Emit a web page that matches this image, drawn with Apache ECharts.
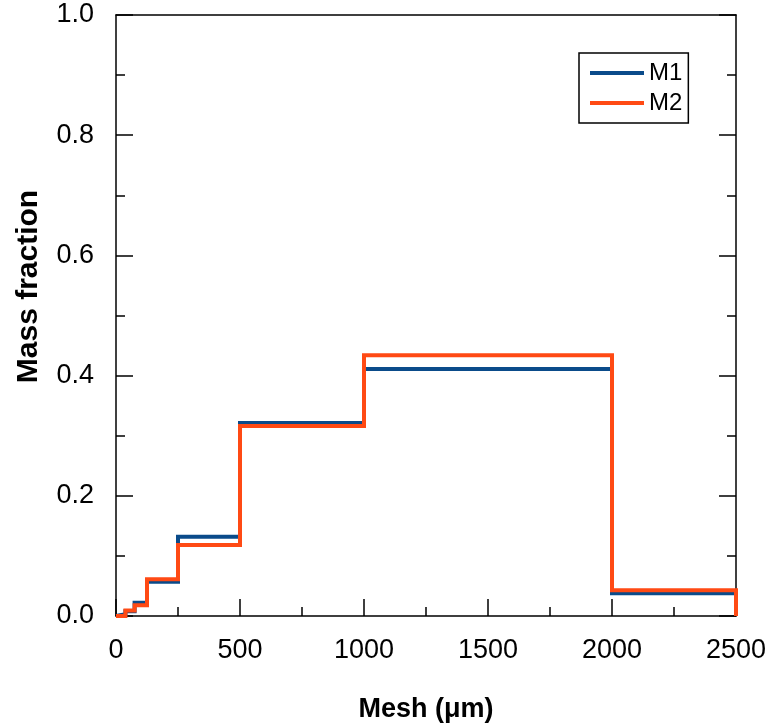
<!DOCTYPE html>
<html>
<head>
<meta charset="utf-8">
<title>Mass fraction vs mesh</title>
<script src="https://cdn.jsdelivr.net/npm/echarts@6/dist/echarts.min.js"></script>
<style>
  html, body { margin: 0; padding: 0; background: #fff; }
  #chart { width: 770px; height: 728px; }
</style>
</head>
<body>
<div id="chart"></div>
<script>
// Sieve bin lower edges (µm); the last entry closes the final bin.
const meshEdges = [0, 38, 75, 125, 250, 500, 1000, 2000, 2500];
// Mass fraction retained in each bin
const m1Values = [0.003, 0.008, 0.022, 0.057, 0.132, 0.321, 0.411, 0.038];
const m2Values = [0.0, 0.009, 0.018, 0.061, 0.118, 0.316, 0.434, 0.043];
const xTicks = [0, 500, 1000, 1500, 2000, 2500];
const yTicks = [0.0, 0.2, 0.4, 0.6, 0.8, 1.0];

// Turn bin values into a closed step outline starting and ending at zero
function stepPoints(values) {
  const pts = [[meshEdges[0], 0]];
  values.forEach((v, i) => pts.push([meshEdges[i], v]));
  pts.push([meshEdges[meshEdges.length - 1], 0]);
  return pts;
}

const FONT = '"Liberation Sans", Arial, sans-serif';
const BLACK_LINE = { color: '#000', width: 1.5 };
const chart = echarts.init(document.getElementById('chart'), null, { renderer: 'canvas' });

chart.setOption({
  animation: false,
  backgroundColor: '#ffffff',
  grid: { left: 116, right: 34, top: 15, bottom: 108, containLabel: false },
  legend: {
    left: 579, top: 53,
    orient: 'vertical',
    padding: [8, 6, 8, 11],
    itemGap: 6,
    itemWidth: 54,
    itemHeight: 4,
    icon: 'rect',
    borderColor: '#000', borderWidth: 1.5,
    textStyle: { fontFamily: FONT, fontSize: 24, color: '#000' },
    data: ['M1', 'M2']
  },
  xAxis: [{
    type: 'value', position: 'bottom',
    min: xTicks[0], max: xTicks[xTicks.length - 1], interval: 500,
    name: 'Mesh (\u03bcm)', nameLocation: 'middle', nameGap: 80,
    nameTextStyle: { fontFamily: FONT, fontSize: 27, fontWeight: 'bold', color: '#000' },
    axisLine: { show: true, onZero: false, lineStyle: BLACK_LINE },
    axisTick: { show: true, inside: true, length: 17, lineStyle: BLACK_LINE },
    minorTick: { show: true, splitNumber: 2, length: 9, lineStyle: BLACK_LINE },
    axisLabel: { fontFamily: FONT, fontSize: 27, color: '#000', margin: 21, formatter: v => String(v) },
    splitLine: { show: false }
  }, {
    type: 'value', position: 'top',
    min: xTicks[0], max: xTicks[xTicks.length - 1], interval: 500,
    axisLine: { show: true, onZero: false, lineStyle: BLACK_LINE },
    axisTick: { show: false }, axisLabel: { show: false }, splitLine: { show: false }
  }],
  yAxis: [{
    type: 'value', position: 'left',
    min: yTicks[0], max: yTicks[yTicks.length - 1], interval: 0.2,
    name: 'Mass fraction', nameLocation: 'middle', nameGap: 72,
    nameTextStyle: { fontFamily: FONT, fontSize: 30, fontWeight: 'bold', color: '#000', padding: [0, 0, 0, 58] },
    axisLine: { show: true, onZero: false, lineStyle: BLACK_LINE },
    axisTick: { show: true, inside: true, length: 17, lineStyle: BLACK_LINE },
    minorTick: { show: true, splitNumber: 2, length: 9, lineStyle: BLACK_LINE },
    axisLabel: { fontFamily: FONT, fontSize: 27, color: '#000', margin: 22, formatter: v => v.toFixed(1) },
    splitLine: { show: false }
  }, {
    type: 'value', position: 'right',
    min: yTicks[0], max: yTicks[yTicks.length - 1], interval: 0.2,
    axisLine: { show: true, onZero: false, lineStyle: BLACK_LINE },
    axisTick: { show: true, inside: true, length: 17, lineStyle: BLACK_LINE },
    minorTick: { show: true, splitNumber: 2, length: 9, lineStyle: BLACK_LINE },
    axisLabel: { show: false }, splitLine: { show: false }
  }],
  series: [{
    name: 'M1', type: 'line', step: 'end',
    data: stepPoints(m1Values),
    symbol: 'none', clip: false,
    lineStyle: { color: '#0a4b8a', width: 4, join: 'miter' },
    itemStyle: { color: '#0a4b8a' }
  }, {
    name: 'M2', type: 'line', step: 'end',
    data: stepPoints(m2Values),
    symbol: 'none', clip: false,
    lineStyle: { color: '#ff4a14', width: 4, join: 'miter' },
    itemStyle: { color: '#ff4a14' }
  }]
});
</script>
</body>
</html>
